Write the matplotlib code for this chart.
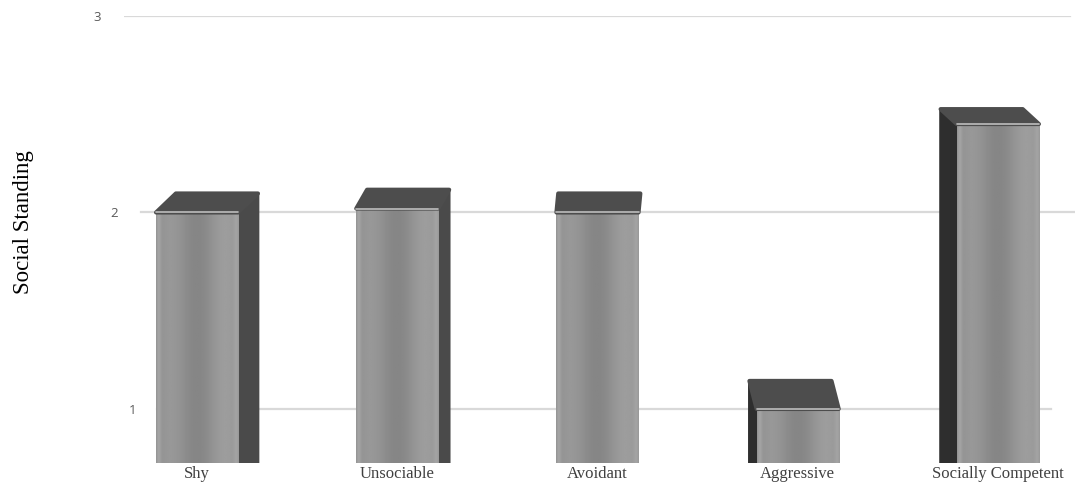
import numpy as np
import matplotlib
matplotlib.use("Agg")
import matplotlib.pyplot as plt
from matplotlib.patches import Polygon
from matplotlib.transforms import ScaledTranslation

categories = ["Shy", "Unsociable", "Avoidant", "Aggressive", "Socially Competent"]
values = [2.0, 2.02, 2.0, 1.0, 2.45]
yticks = [1, 2, 3]
y_label = "Social Standing"

fig = plt.figure(figsize=(10.88, 4.84), dpi=100)
ax = fig.add_axes([0.114, 0.0434, 0.874, 0.9236])

ymin, ymax = 0.725, 3.0
xmin, xmax = -0.365, 4.385
bar_w = 0.41
depth_k = 0.045      # horizontal perspective offset per category
vp_x = 2.2           # vanishing point (category units)
horizon = 4.1        # vertical vanishing value
depth_c = 0.046

ax.set_xlim(xmin, xmax)
ax.set_ylim(ymin, ymax)
for s in ax.spines.values():
    s.set_visible(False)
ax.set_yticks(yticks)
ax.set_yticklabels([str(t) for t in yticks], fontsize=9.5, color="#595959",
                   family="Open Sans")
ax.tick_params(axis="y", length=0, pad=4)
ax.tick_params(axis="x", length=0, pad=2)

# perspective gridlines (start/end in axes fraction) and tick-label shifts (px)
grid_span = {1: (0.035, 0.975), 2: (0.018, 1.0), 3: (0.0, 0.995)}
label_shift = {1: 18, 2: -1, 3: -18}
for t in yticks:
    a, b = grid_span[t]
    ax.axhline(t, xmin=a, xmax=b, color="#d9d9d9", linewidth=1.6, zorder=1)
for lab, t in zip(ax.get_yticklabels(), yticks):
    lab.set_transform(lab.get_transform() +
                      ScaledTranslation(label_shift[t] / 100, 0, fig.dpi_scale_trans))

x = np.arange(len(categories))
ax.set_xticks(x)
ax.set_xticklabels(categories, fontsize=12, color="#404040",
                   family="Liberation Serif")
ax.set_ylabel(y_label, fontsize=16.5, family="Liberation Serif", color="#000000")
ax.yaxis.set_label_coords(-0.095, 0.538)

bars = ax.bar(x, [v - ymin for v in values], bottom=ymin, width=bar_w,
              color="#929292", edgecolor="none", zorder=3)

# front-face gradient
cols = np.linspace(0, 1, 200)
prof = (0.55 + 0.04 * np.sin(cols * np.pi * 3.0) + 0.08 * np.exp(-((cols - 0.03) / 0.03) ** 2)
        + 0.05 * np.exp(-((cols - 0.97) / 0.03) ** 2) + 0.03 * cols)
grad = np.tile(prof, (50, 1))

for i, (b, v) in enumerate(zip(bars, values)):
    x0 = b.get_x()
    x1 = x0 + b.get_width()
    im = ax.imshow(grad, extent=[x0, x1, ymin, v], aspect="auto", cmap="gray",
                   vmin=0, vmax=1, zorder=3.5, interpolation="bilinear")
    im.set_clip_path(b)
    dx = depth_k * (vp_x - i)
    dy = depth_c * (horizon - v)
    # side face
    if dx > 0.01:
        side = Polygon([(x1, ymin - 0.2), (x1, v), (x1 + dx, v + dy), (x1 + dx, ymin - 0.2 + dy)],
                       closed=True, facecolor="#4a4a4a", edgecolor="#4a4a4a",
                       linewidth=2, joinstyle="round", zorder=2.9)
        ax.add_patch(side)
    elif dx < -0.01:
        side = Polygon([(x0, ymin - 0.2), (x0, v), (x0 + dx, v + dy), (x0 + dx, ymin - 0.2 + dy)],
                       closed=True, facecolor="#2e2e2e", edgecolor="#2e2e2e",
                       linewidth=2, joinstyle="round", zorder=2.9)
        ax.add_patch(side)
    top = Polygon([(x0, v), (x1, v), (x1 + dx, v + dy), (x0 + dx, v + dy)],
                  closed=True, facecolor="#4d4d4d", edgecolor="#4d4d4d", linewidth=3,
                  zorder=4, joinstyle="round")
    ax.add_patch(top)
    ax.plot([x0, x1], [v, v], color="#bdbdbd", linewidth=1.2, zorder=4.5,
            solid_capstyle="round")

ax.set_xlim(xmin, xmax)
ax.set_ylim(ymin, ymax)
fig.savefig("out.png", dpi=100)
